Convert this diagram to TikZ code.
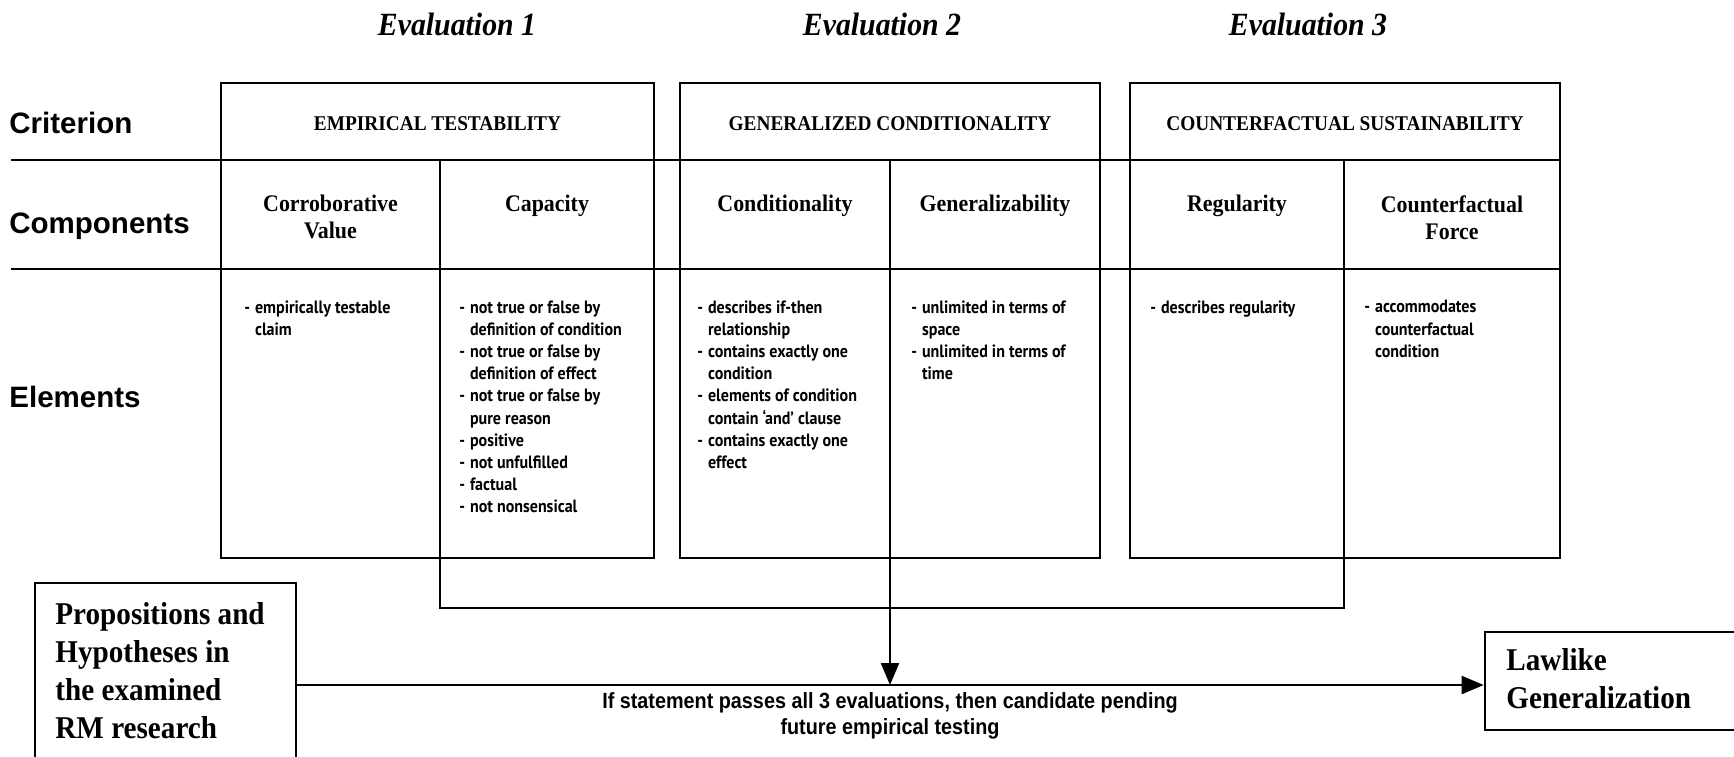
\documentclass[tikz,border=0pt]{standalone}
\usepackage{fontspec}
\setmainfont{Liberation Serif}[FakeStretch=0.92]
\newfontfamily\hsans{Liberation Sans}
\newfontfamily\hsansc{Liberation Sans}[FakeStretch=0.9]
\newfontfamily\elsans{PT Sans}[FakeStretch=0.9,Ligatures=TeX]
\usetikzlibrary{arrows.meta}
\newcommand\bl{\makebox[0.6em][l]{-}}
\newcommand\ci{\hspace*{0.6em}}
\begin{document}
\begin{tikzpicture}[x=0.5pt,y=-0.5pt,
  ebox/.style={draw,line width=1.3pt,rectangle,inner sep=0pt,minimum height=237.5pt},
  rowline/.style={line width=1pt},
  conn/.style={line width=1.1pt},
  arr/.style={conn,-{Triangle[length=11pt,width=9pt]}},
  evtitle/.style={font=\fontsize{16.2}{19}\selectfont\bfseries\itshape,inner sep=0pt},
  rowlab/.style={font=\hsans\bfseries\fontsize{14.75}{17}\selectfont,anchor=base west,inner sep=0pt},
  crit/.style={font=\bfseries\fontsize{10.5}{12}\selectfont,inner sep=0pt},
  comp/.style={font=\bfseries\fontsize{11.9}{13.5}\selectfont,align=center,anchor=north,inner sep=0pt},
  elem/.style={font=\elsans\bfseries\fontsize{8.9}{11.1}\selectfont,align=left,anchor=north west,inner sep=0pt},
  bigtxt/.style={font=\bfseries\fontsize{15.85}{19}\selectfont,align=left,anchor=north west,inner sep=0pt},
  outbox/.style={draw,line width=1.3pt,rectangle,inner sep=0pt},
  note/.style={font=\hsansc\bfseries\fontsize{11}{12.7}\selectfont,align=center,inner sep=0pt}
]
\useasboundingbox (0,0) rectangle (1734,756);
\clip (0,0) rectangle (1734,756);

% evaluation titles
\node[evtitle] (ev1) at (457,24) {Evaluation 1};
\node[evtitle] (ev2) at (882,24) {Evaluation 2};
\node[evtitle] (ev3) at (1308,24) {Evaluation 3};

% row labels
\node[rowlab] (lcrit) at (9,133) {Criterion};
\node[rowlab] (lcomp) at (9,233) {Components};
\node[rowlab] (lelem) at (9,407) {Elements};

% evaluation boxes
\node[ebox,minimum width=216.5pt] (E1) at (437.5,320.5) {};
\node[ebox,minimum width=210pt] (E2) at (890,320.5) {};
\node[ebox,minimum width=215pt] (E3) at (1345,320.5) {};

% row lines
\coordinate (r1) at (11,160);
\coordinate (r2) at (11,269);
\draw[rowline] (r1) -- (r1 -| E3.east);
\draw[rowline] (r2) -- (r2 -| E3.east);

% dividers and bracket
\coordinate (d1t) at (440,160);
\coordinate (d1b) at (440,608);
\coordinate (d3t) at (1344,160);
\coordinate (d3b) at (1344,608);
\coordinate (d2t) at (890,160);
\draw[conn] (d1t) -- (d1b) -- (d3b) -- (d3t);

% criterion titles
\node[crit] (c1) at (437.5,124) {EMPIRICAL TESTABILITY};
\node[crit] (c2) at (890,124) {GENERALIZED CONDITIONALITY};
\node[crit] (c3) at (1345,124) {COUNTERFACTUAL SUSTAINABILITY};

% components
\node[comp] (k1) at (330.5,195) {Corroborative\\Value};
\node[comp] (k2) at (547,195) {Capacity};
\node[comp] (k3) at (785,195) {Conditionality};
\node[comp] (k4) at (995,195) {Generalizability};
\node[comp] (k5) at (1237,195) {Regularity};
\node[comp] (k6) at (1452,195) {Counterfactual\\Force};

% elements
\node[elem] (x1) at (244,300) {\bl empirically testable\\\ci claim};
\node[elem] (x2) at (459,300) {\bl not true or false by\\\ci definition of condition\\\bl not true or false by\\\ci definition of effect\\\bl not true or false by\\\ci pure reason\\\bl positive\\\bl not unfulfilled\\\bl factual\\\bl not nonsensical};
\node[elem] (x3) at (697,300) {\bl describes if-then\\\ci relationship\\\bl contains exactly one\\\ci condition\\\bl elements of condition\\\ci contain ‘and’ clause\\\bl contains exactly one\\\ci effect};
\node[elem] (x4) at (911,300) {\bl unlimited in terms of\\\ci space\\\bl unlimited in terms of\\\ci time};
\node[elem] (x5) at (1150,300) {\bl describes regularity};
\node[elem] (x6) at (1364,300) {\bl accommodates\\\ci counterfactual\\\ci condition};

% outer boxes
\node[outbox,minimum width=130.5pt,minimum height=103.5pt] (P) at (165.5,686.5) {};
\node[bigtxt] (Pt) at (55,602) {Propositions and\\Hypotheses in\\the examined\\RM research};
\node[outbox,minimum width=137.5pt,minimum height=49pt] (L) at (1622.5,681) {};
\node[bigtxt] (Lt) at (1506,648) {Lawlike\\Generalization};

% main flow
\coordinate (my) at (0,685);
\draw[arr] (P.east |- my) -- (L.west |- my);
\draw[arr] (d2t) -- (d2t |- my);

\node[note] (nt) at (890,716) {If statement passes all 3 evaluations, then candidate pending\\future empirical testing};
\end{tikzpicture}
\end{document}
